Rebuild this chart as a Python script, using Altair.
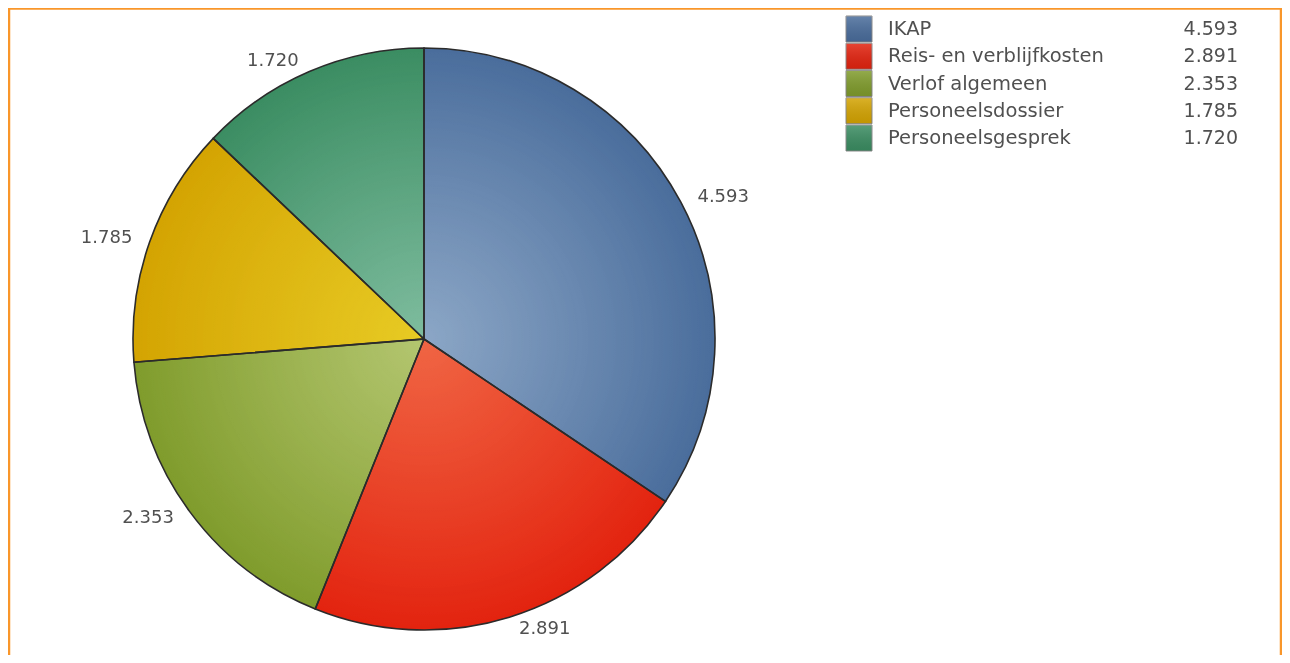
import altair as alt
import pandas as pd

names = ["IKAP", "Reis- en verblijfkosten", "Verlof algemeen", "Personeelsdossier", "Personeelsgesprek"]
values = [4.593, 2.891, 2.353, 1.785, 1.720]
labels = ["4.593", "2.891", "2.353", "1.785", "1.720"]
colors = ["#4a6d9c", "#e3230f", "#809c2c", "#d4a402", "#3b8d62"]
swatch_colors = ["#5a7eb0", "#ee3a26", "#9ab83a", "#e6bc12", "#47a272"]

df = pd.DataFrame({"name": names, "value": values, "label": labels,
                   "idx": list(range(len(names)))})
total = float(sum(values))

CX, CY, R = 416, 331, 291
FONT = "DejaVu Sans"
TXT = "#505050"

tscale = alt.Scale(domain=[0, total], range=[0, 6.283185307])
base = alt.Chart(df)
theta = alt.Theta("value:Q", stack=True, scale=tscale)
order = alt.Order("idx:Q")
color = alt.Color("name:N", scale=alt.Scale(domain=names, range=colors), legend=None)

slices = base.mark_arc(radius=R, strokeWidth=0).encode(
    theta=theta, order=order, color=color,
    x=alt.value(CX), y=alt.value(CY))

circle_df = pd.DataFrame({"a": [0]})
shade = alt.Chart(circle_df).mark_arc(
    radius=R, theta=0, theta2=6.2832, blend="soft-light",
    fill=alt.RadialGradient(
        gradient="radial", x1=0.5, y1=0.5, r1=0, x2=0.5, y2=0.5, r2=0.5,
        stops=[alt.GradientStop(color="rgba(255,255,255,0.78)", offset=0),
               alt.GradientStop(color="rgba(255,255,255,0.0)", offset=1)])
).encode(x=alt.value(CX), y=alt.value(CY))

shade2 = alt.Chart(circle_df).mark_arc(
    radius=R, theta=0, theta2=6.2832,
    fill=alt.RadialGradient(
        gradient="radial", x1=0.5, y1=0.5, r1=0, x2=0.5, y2=0.5, r2=0.5,
        stops=[alt.GradientStop(color="rgba(255,255,255,0.12)", offset=0),
               alt.GradientStop(color="rgba(255,255,255,0.0)", offset=1)])
).encode(x=alt.value(CX), y=alt.value(CY))

outline = base.mark_arc(radius=R, fillOpacity=0, stroke="#2b2b2b", strokeWidth=1.6).encode(
    theta=theta, order=order, x=alt.value(CX), y=alt.value(CY))

lab_base = base.transform_window(
    cum="sum(value)", sort=[alt.SortField("idx")], frame=[None, 0]
).transform_calculate(mid="datum.cum - datum.value / 2")
mtheta = alt.Theta("mid:Q", scale=tscale)

lab_right = lab_base.transform_filter(alt.datum.mid < total / 2).mark_text(
    radius=303, dx=6, font=FONT, fontSize=18, color=TXT, align="left", baseline="middle"
).encode(theta=mtheta, text="label:N", x=alt.value(CX), y=alt.value(CY))

lab_left = lab_base.transform_filter(alt.datum.mid >= total / 2).mark_text(
    radius=303, dx=-6, font=FONT, fontSize=18, color=TXT, align="right", baseline="middle"
).encode(theta=mtheta, text="label:N", x=alt.value(CX), y=alt.value(CY))

yscale = alt.Scale(domain=names, range=[21, 130], type="point", padding=0)
ly = alt.Y("name:N", scale=yscale, axis=None)

swatch = base.mark_square(size=26 * 26, stroke="#8a8a8a", strokeWidth=1, opacity=1).encode(
    x=alt.value(851), y=ly,
    color=alt.Color("name:N", scale=alt.Scale(domain=names, range=swatch_colors), legend=None))

swatch_shade = base.mark_square(
    size=26 * 26,
    fill=alt.LinearGradient(
        gradient="linear", x1=0, y1=0, x2=0, y2=1,
        stops=[alt.GradientStop(color="rgba(255,255,255,0.22)", offset=0),
               alt.GradientStop(color="rgba(0,0,0,0.12)", offset=1)])
).encode(x=alt.value(851), y=ly)

leg_names = base.mark_text(font=FONT, fontSize=19.5, color=TXT, align="left",
                           baseline="middle").encode(
    x=alt.value(880), y=ly, text="name:N")

leg_vals = base.mark_text(font=FONT, fontSize=19, color=TXT, align="right",
                          baseline="middle").encode(
    x=alt.value(1230), y=ly, text="label:N")

frame_df = pd.DataFrame({"a": [0]})
ORANGE = "#f9962a"
left = alt.Chart(frame_df).mark_rule(color=ORANGE, strokeWidth=2.5).encode(
    x=alt.value(1), y=alt.value(0), y2=alt.value(647))
top = alt.Chart(frame_df).mark_rule(color=ORANGE, strokeWidth=2.5).encode(
    x=alt.value(0), x2=alt.value(1274), y=alt.value(0.5))
right = alt.Chart(frame_df).mark_rule(color=ORANGE, strokeWidth=2.5).encode(
    x=alt.value(1273), y=alt.value(0), y2=alt.value(647))

chart = alt.layer(
    slices, shade, shade2, outline, lab_right, lab_left, swatch, swatch_shade,
    leg_names, leg_vals, left, top, right
).properties(
    width=1274, height=647, padding=0, background="white",
    autosize=alt.AutoSizeParams(type="none")
).configure_view(stroke=None)

chart.save("out.html", embed_options={"renderer": "svg", "actions": False})
